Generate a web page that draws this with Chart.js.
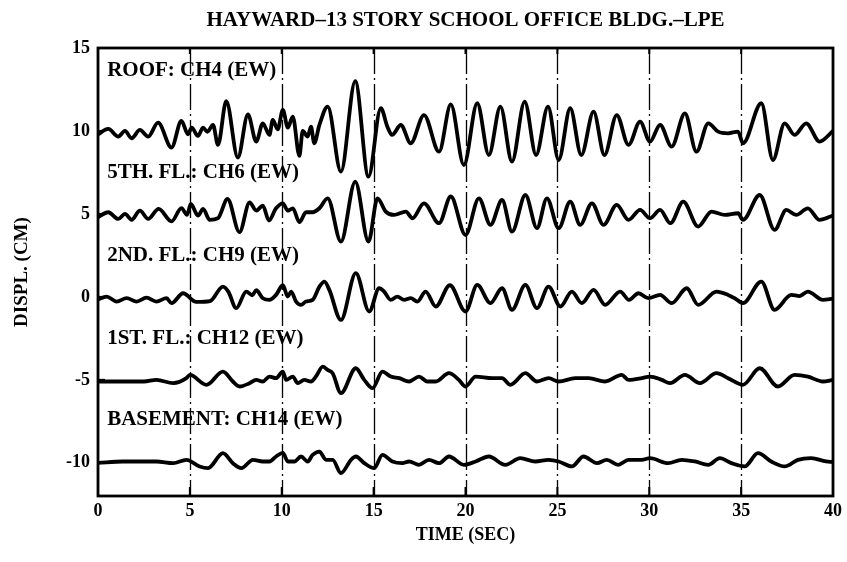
<!DOCTYPE html>
<html>
<head>
<meta charset="utf-8">
<title>Hayward 13 story school office bldg</title>
<script src="https://cdn.jsdelivr.net/npm/chart.js@4.4.0/dist/chart.umd.min.js"></script>
<style>
  html, body { margin: 0; padding: 0; background: #fff; }
  #wrap { width: 847px; height: 562px; }
</style>
</head>
<body>
<div id="wrap"><canvas id="quake" width="847" height="562"></canvas></div>
<script>
"use strict";

// time (sec) and displacement (cm), one pair of lists per floor
const roofTime = [0, 0.56, 1.1, 1.47, 1.83, 2.28, 2.73, 3.27, 4.0, 4.54, 4.9, 5.1, 5.44, 5.72, 5.95, 6.26, 6.53, 6.98, 7.61, 8.16, 8.61, 8.97, 9.33, 9.51, 9.78, 10.06, 10.33, 10.6, 10.96, 11.14, 11.41, 11.59, 11.77, 12.05, 12.5, 13.22, 14.0, 14.72, 15.39, 15.75, 16.0, 16.48, 17.02, 17.74, 18.56, 19.2, 19.91, 20.64, 21.27, 21.9, 22.53, 23.22, 23.84, 24.49, 25.07, 25.7, 26.3, 26.97, 27.56, 28.23, 28.87, 29.5, 30.04, 30.59, 31.22, 31.94, 32.57, 33.21, 33.75, 34.29, 34.83, 35.1, 36.1, 36.73, 37.37, 37.91, 38.54, 39.27, 40];
const roofDispl = [9.8, 10.12, 9.66, 10.0, 9.56, 10.06, 9.66, 10.5, 9.0, 10.6, 9.8, 10.2, 9.7, 10.2, 9.95, 10.36, 9.16, 11.8, 8.4, 11.0, 9.36, 10.46, 9.76, 10.66, 10.1, 11.27, 10.2, 10.86, 8.5, 10.0, 9.66, 10.26, 9.26, 10.36, 11.47, 7.55, 13.0, 7.25, 11.37, 10.26, 9.76, 10.36, 9.26, 10.96, 8.75, 11.6, 7.95, 11.67, 8.55, 11.47, 8.15, 11.77, 8.55, 11.47, 8.25, 11.37, 8.55, 11.17, 8.55, 10.96, 9.16, 10.56, 9.36, 10.36, 9.06, 11.06, 8.75, 10.46, 9.96, 9.86, 9.96, 9.26, 11.67, 8.25, 10.46, 9.76, 10.46, 9.36, 10.0];

const fifthTime = [0, 0.56, 1.1, 1.47, 1.83, 2.28, 2.73, 3.3, 4.0, 4.54, 4.85, 5.05, 5.44, 5.72, 6.08, 6.53, 7.05, 7.7, 8.25, 8.61, 8.97, 9.3, 9.69, 10.06, 10.33, 10.6, 10.96, 11.32, 11.68, 12.05, 12.5, 13.22, 14.0, 14.72, 15.21, 15.66, 16.11, 16.75, 17.11, 17.74, 18.56, 19.2, 20.0, 20.73, 21.36, 21.99, 22.53, 23.26, 23.89, 24.43, 25.07, 25.7, 26.24, 26.88, 27.51, 28.23, 28.87, 29.5, 30.04, 30.59, 31.15, 31.85, 32.66, 33.39, 34.11, 34.83, 35.1, 36.01, 36.82, 37.46, 38.0, 38.63, 39.27, 40];
const fifthDispl = [4.8, 5.1, 4.7, 5.0, 4.65, 5.2, 4.7, 5.3, 4.55, 5.35, 4.95, 5.6, 4.9, 5.3, 4.64, 4.74, 5.9, 3.9, 5.7, 5.2, 5.5, 4.6, 5.34, 5.64, 5.2, 5.34, 4.5, 5.1, 5.1, 5.34, 5.94, 3.33, 6.95, 3.33, 5.94, 5.14, 4.94, 5.14, 4.74, 5.64, 4.44, 6.05, 3.73, 5.94, 4.34, 5.84, 3.93, 6.14, 4.14, 5.94, 4.14, 5.74, 4.34, 5.64, 4.34, 5.54, 4.64, 5.24, 4.74, 5.24, 4.44, 5.74, 4.24, 5.14, 4.94, 5.04, 4.64, 6.14, 4.04, 5.24, 4.94, 5.34, 4.64, 4.9];

const secondTime = [0, 0.47, 1.01, 1.56, 2.1, 2.64, 3.18, 3.73, 4.0, 4.63, 5.35, 6.1, 6.8, 7.1, 7.52, 8.07, 8.4, 8.61, 8.97, 9.33, 9.69, 10.06, 10.33, 10.51, 10.78, 11.05, 11.32, 11.68, 12.05, 12.32, 12.59, 13.22, 14.03, 14.76, 15.3, 15.57, 15.93, 16.29, 16.66, 17.02, 17.38, 17.83, 18.38, 19.15, 20.0, 20.64, 21.36, 21.99, 22.53, 23.26, 23.89, 24.52, 25.16, 25.79, 26.33, 26.97, 27.6, 28.42, 28.9, 29.41, 29.95, 30.59, 31.22, 32.04, 32.66, 33.66, 34.29, 34.65, 35.1, 36.1, 36.82, 37.73, 38.18, 38.63, 39.45, 40];
const secondDispl = [-0.15, 0.02, -0.28, -0.08, -0.28, -0.05, -0.28, -0.08, -0.38, 0.22, -0.3, -0.25, 0.62, 0.3, -0.68, 0.32, 0.1, 0.4, -0.08, -0.18, 0.12, 0.7, 0.02, 0.32, -0.28, -0.48, -0.28, -0.18, 0.62, 0.92, 0.42, -1.39, 1.43, -0.88, 0.52, 0.32, -0.18, 0.02, -0.18, -0.08, -0.28, 0.32, -0.58, 0.7, -0.88, 0.72, -0.38, 0.52, -0.78, 0.72, -0.68, 0.62, -0.58, 0.32, -0.38, 0.42, -0.48, 0.32, -0.18, 0.22, -0.08, 0.12, -0.38, 0.52, -0.48, 0.32, 0.12, -0.08, -0.38, 0.92, -0.78, 0.12, 0.05, 0.32, -0.18, -0.1];

const firstTime = [0, 2.5, 3.18, 4.09, 4.81, 5.0, 5.9, 6.8, 7.34, 7.7, 8.25, 8.61, 8.97, 9.33, 9.69, 10.06, 10.24, 10.6, 10.87, 11.23, 11.59, 11.86, 12.23, 12.5, 12.77, 13.22, 14.03, 14.49, 14.94, 15.48, 15.93, 16.39, 16.93, 17.47, 17.92, 18.38, 19.1, 19.64, 20.0, 20.55, 21.45, 21.99, 22.44, 23.26, 23.89, 24.52, 25.07, 25.97, 26.7, 27.6, 28.5, 28.87, 29.59, 30.04, 30.68, 31.13, 31.94, 32.76, 33.66, 34.29, 35.1, 36.01, 37.0, 37.91, 38.63, 39.45, 40];
const firstDispl = [-5.1, -5.1, -5.0, -5.2, -4.9, -4.7, -5.3, -4.5, -5.1, -5.4, -5.2, -5.0, -5.1, -4.8, -4.9, -4.5, -5.0, -4.8, -5.2, -5.0, -5.1, -4.8, -4.2, -4.4, -4.6, -5.8, -4.3, -5.0, -5.5, -4.5, -4.8, -4.9, -5.1, -4.8, -5.1, -5.1, -4.6, -5.0, -5.4, -4.8, -4.9, -4.9, -5.3, -4.6, -5.1, -4.9, -5.1, -4.9, -4.9, -5.1, -4.7, -5.0, -4.9, -4.8, -5.0, -5.2, -4.7, -5.2, -4.6, -4.9, -5.3, -4.3, -5.4, -4.7, -4.8, -5.1, -5.0];

const basementTime = [0, 1.36, 3.18, 4.09, 4.81, 5.53, 5.99, 6.8, 7.34, 7.8, 8.43, 8.97, 9.33, 9.69, 10.06, 10.33, 10.69, 11.05, 11.41, 11.68, 12.05, 12.41, 12.77, 13.22, 13.77, 14.03, 14.49, 15.03, 15.48, 16.02, 16.57, 16.93, 17.47, 18.01, 18.56, 19.1, 19.91, 20.55, 21.27, 22.17, 22.98, 23.8, 24.52, 25.07, 25.79, 26.42, 27.15, 27.69, 28.32, 28.87, 29.59, 30.04, 31.03, 31.76, 32.48, 33.21, 33.84, 34.47, 35.19, 35.92, 36.64, 37.37, 38.09, 38.81, 39.62, 40];
const basementDispl = [-10.0, -9.92, -9.92, -10.02, -9.82, -10.22, -10.32, -9.42, -10.02, -10.32, -9.82, -9.92, -9.92, -9.62, -9.4, -9.92, -9.92, -9.62, -9.92, -9.52, -9.32, -9.82, -9.82, -10.62, -9.82, -9.62, -10.02, -10.32, -9.52, -9.92, -10.02, -9.92, -10.12, -9.82, -10.02, -9.62, -10.12, -9.92, -9.62, -10.12, -9.72, -9.92, -9.82, -9.92, -10.22, -9.62, -10.02, -9.82, -10.12, -9.82, -9.82, -9.72, -10.02, -9.82, -9.92, -10.12, -9.72, -10.02, -10.22, -9.42, -9.92, -10.22, -9.82, -9.72, -9.92, -9.95];

const floorNames = ["ROOF: CH4 (EW)", "5TH. FL.: CH6 (EW)", "2ND. FL.: CH9 (EW)", "1ST. FL.: CH12 (EW)", "BASEMENT: CH14 (EW)"];
const labelLevels = [13.65, 7.5, 2.5, -2.5, -7.4];
const labelTime = 0.5;

const timeTicks = [0, 5, 10, 15, 20, 25, 30, 35, 40];
const displTicks = [-10, -5, 0, 5, 10, 15];
const chartTitle = "HAYWARD\u201313 STORY SCHOOL OFFICE BLDG.\u2013LPE";

const serif = "'Liberation Serif', 'DejaVu Serif', serif";

function pairUp(times, values) {
  let n = Math.min(times.length, values.length);
  let out = [];
  for (let i = 0; i < n; i++) out.push({ x: times[i], y: values[i] });
  return out;
}

const traces = [
  pairUp(roofTime, roofDispl),
  pairUp(fifthTime, fifthDispl),
  pairUp(secondTime, secondDispl),
  pairUp(firstTime, firstDispl),
  pairUp(basementTime, basementDispl)
];

// frame, dash-dot time lines, inward ticks and the floor captions
const recordDecor = {
  id: "recordDecor",
  beforeDatasetsDraw(chart) {
    const { ctx, chartArea: a, scales } = chart;
    ctx.save();
    ctx.strokeStyle = "#000";
    ctx.lineWidth = 1.3;
    ctx.setLineDash([26, 4, 2, 4]);
    timeTicks.forEach((t) => {
      if (t === timeTicks[0] || t === timeTicks[timeTicks.length - 1]) return;
      let px = Math.round(scales.x.getPixelForValue(t)) + 0.5;
      ctx.beginPath();
      ctx.moveTo(px, a.top);
      ctx.lineTo(px, a.bottom);
      ctx.stroke();
    });
    ctx.restore();
  },
  afterDatasetsDraw(chart) {
    const { ctx, chartArea: a, scales } = chart;
    ctx.save();
    ctx.strokeStyle = "#000";
    ctx.lineWidth = 2.8;
    ctx.strokeRect(a.left, a.top, a.right - a.left, a.bottom - a.top);

    ctx.lineWidth = 2;
    displTicks.forEach((v) => {
      let py = scales.y.getPixelForValue(v);
      ctx.beginPath();
      ctx.moveTo(a.left, py);
      ctx.lineTo(a.left + 7, py);
      ctx.stroke();
    });
    timeTicks.forEach((t) => {
      let px = scales.x.getPixelForValue(t);
      ctx.beginPath();
      ctx.moveTo(px, a.bottom);
      ctx.lineTo(px, a.bottom - 9);
      ctx.moveTo(px, a.top);
      ctx.lineTo(px, a.top + 6);
      ctx.stroke();
    });

    ctx.fillStyle = "#000";
    ctx.font = "bold 21px " + serif;
    ctx.textAlign = "left";
    ctx.textBaseline = "middle";
    floorNames.forEach((name, i) => {
      ctx.fillText(name, scales.x.getPixelForValue(labelTime), scales.y.getPixelForValue(labelLevels[i]));
    });
    ctx.restore();
  }
};

let quakeCanvas = document.getElementById("quake");
let quakeChart = new Chart(quakeCanvas, {
  type: "line",
  data: {
    datasets: traces.map((pts, i) => ({
      label: floorNames[i],
      data: pts,
      borderColor: "#000",
      borderWidth: 3.8,
      pointRadius: 0,
      fill: false,
      cubicInterpolationMode: "monotone"
    }))
  },
  options: {
    responsive: false,
    animation: false,
    devicePixelRatio: 1,
    layout: { padding: { top: 0, right: 12, bottom: 0, left: 0 } },
    plugins: {
      legend: { display: false },
      tooltip: { enabled: false },
      title: {
        display: true,
        fullSize: false,
        text: chartTitle,
        color: "#000",
        font: { family: serif, size: 21, weight: "bold" },
        padding: { top: 8, bottom: 14.8 }
      }
    },
    scales: {
      x: {
        type: "linear",
        min: 0,
        max: 40,
        afterBuildTicks: (s) => { s.ticks = timeTicks.map((v) => ({ value: v })); },
        afterFit: (s) => { s.height = 66; },
        grid: { display: false, drawTicks: false },
        border: { display: false },
        ticks: { color: "#000", padding: 5, maxRotation: 0, font: { family: serif, size: 18, weight: "bold" } },
        title: {
          display: true,
          text: "TIME (SEC)",
          color: "#000",
          font: { family: serif, size: 18, weight: "bold" },
          padding: { top: 0, bottom: 16 }
        }
      },
      y: {
        type: "linear",
        min: -12,
        max: 15,
        afterBuildTicks: (s) => { s.ticks = displTicks.map((v) => ({ value: v })); },
        afterFit: (s) => { s.width = 98; },
        grid: { display: false, drawTicks: false },
        border: { display: false },
        ticks: { color: "#000", padding: 8, font: { family: serif, size: 18, weight: "bold" } },
        title: {
          display: true,
          text: "DISPL. (CM)",
          color: "#000",
          font: { family: serif, size: 19, weight: "bold" },
          padding: { top: 11, bottom: 0 }
        }
      }
    }
  },
  plugins: [recordDecor]
});
</script>
</body>
</html>
